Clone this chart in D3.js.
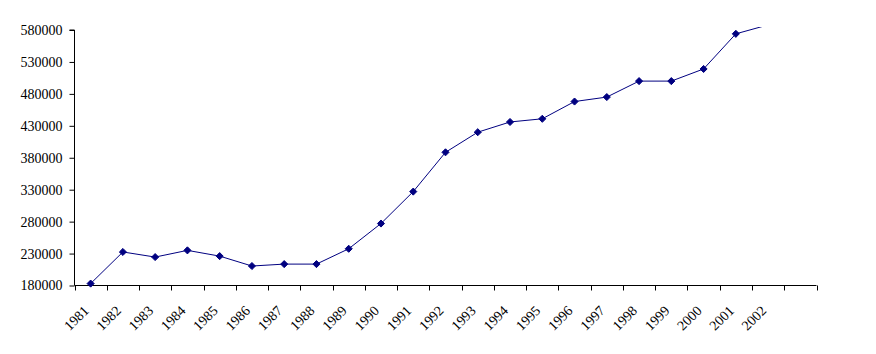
<!DOCTYPE html>
<html>
<head>
<meta charset="utf-8">
<script src="https://cdn.jsdelivr.net/npm/d3@7"></script>
<style>
  html, body { margin: 0; padding: 0; background: #fff; }
  svg { display: block; }
  text { font-family: "Liberation Serif", "Times New Roman", serif; font-size: 14px; fill: #000; }
</style>
</head>
<body>
<svg id="chart" width="876" height="354"></svg>
<script>
const categories = ["1981","1982","1983","1984","1985","1986","1987","1988","1989","1990","1991",
                    "1992","1993","1994","1995","1996","1997","1998","1999","2000","2001","2002",""];
const values = [183000, 232500, 224500, 235000, 226000, 210500, 213500, 213500, 237500, 277000, 327000,
                388500, 420000, 436000, 441000, 468000, 475000, 500000, 500000, 519000, 574000, 588000];
const yTicks = [180000, 230000, 280000, 330000, 380000, 430000, 480000, 530000, 580000];

(function () {
const svg = d3.select("#chart");
const pLeft = 74.5, pRight = 816.5, pTop = 30, pBottom = 285.5, clipTop = 27;

const x = d3.scaleBand().domain(categories.map((c, i) => i)).range([pLeft, pRight]).padding(0);
const y = d3.scaleLinear().domain([180000, 580000]).range([pBottom, pTop]);

svg.append("defs").append("clipPath").attr("id", "plotclip")
  .append("rect").attr("x", pLeft).attr("y", clipTop).attr("width", pRight - pLeft).attr("height", pBottom - clipTop + 6);

// Y axis
const yAxis = d3.axisLeft(y).tickValues(yTicks).tickSize(5).tickPadding(7).tickFormat(d3.format("d"));
const gy = svg.append("g").attr("transform", `translate(${pLeft},0)`).call(yAxis);
gy.select(".domain").attr("stroke", "#000").attr("d", `M-5,${pTop}H0V${pBottom}`);
gy.selectAll(".tick line").attr("stroke", "#000");
gy.selectAll(".tick text").attr("font-family", "Liberation Serif").attr("font-size", 14).attr("fill", "#000");

// X axis
const gx = svg.append("g").attr("transform", `translate(0,${pBottom})`);
gx.append("line").attr("x1", pLeft).attr("x2", pRight).attr("y1", 0).attr("y2", 0).attr("stroke", "#000");
const tickPos = d3.range(categories.length + 1).map(i => i < categories.length ? x(i) : x(categories.length - 1) + x.bandwidth());
gx.selectAll("line.tk").data(tickPos).join("line").attr("class", "tk")
  .attr("x1", d => Math.round(d) + 0.5).attr("x2", d => Math.round(d) + 0.5)
  .attr("y1", 0).attr("y2", 5).attr("stroke", "#000");
gx.selectAll("text.lbl").data(categories.map((c, i) => ({c, i})).filter(d => d.c !== ""))
  .join("text").attr("class", "lbl")
  .attr("text-anchor", "end")
  .attr("font-size", 14.5)
  .attr("transform", d => `translate(${x(d.i) + x.bandwidth() / 2 - 1},${26}) rotate(-45)`)
  .text(d => d.c);

// Line + markers
const pts = values.map((v, i) => ({i, v}));
const plot = svg.append("g").attr("clip-path", "url(#plotclip)");
const line = d3.line().x(d => x(d.i) + x.bandwidth() / 2).y(d => y(d.v));
plot.append("path").datum(pts).attr("d", line)
  .attr("fill", "none").attr("stroke", "#000080").attr("stroke-width", 1);
const diamond = d3.symbolDiamond2 || { draw(ctx, size) { const r = Math.sqrt(size / 2); ctx.moveTo(0, -r); ctx.lineTo(r, 0); ctx.lineTo(0, r); ctx.lineTo(-r, 0); ctx.closePath(); } };
const markerPts = pts.filter(d => y(d.v) >= clipTop);
plot.selectAll("path.mk").data(markerPts).join("path").attr("class", "mk")
  .attr("transform", d => `translate(${x(d.i) + x.bandwidth() / 2},${y(d.v)})`)
  .attr("d", d3.symbol(diamond, 32))
  .attr("fill", "#000080").attr("stroke", "#000080").attr("stroke-width", 1);
})();
</script>
</body>
</html>
